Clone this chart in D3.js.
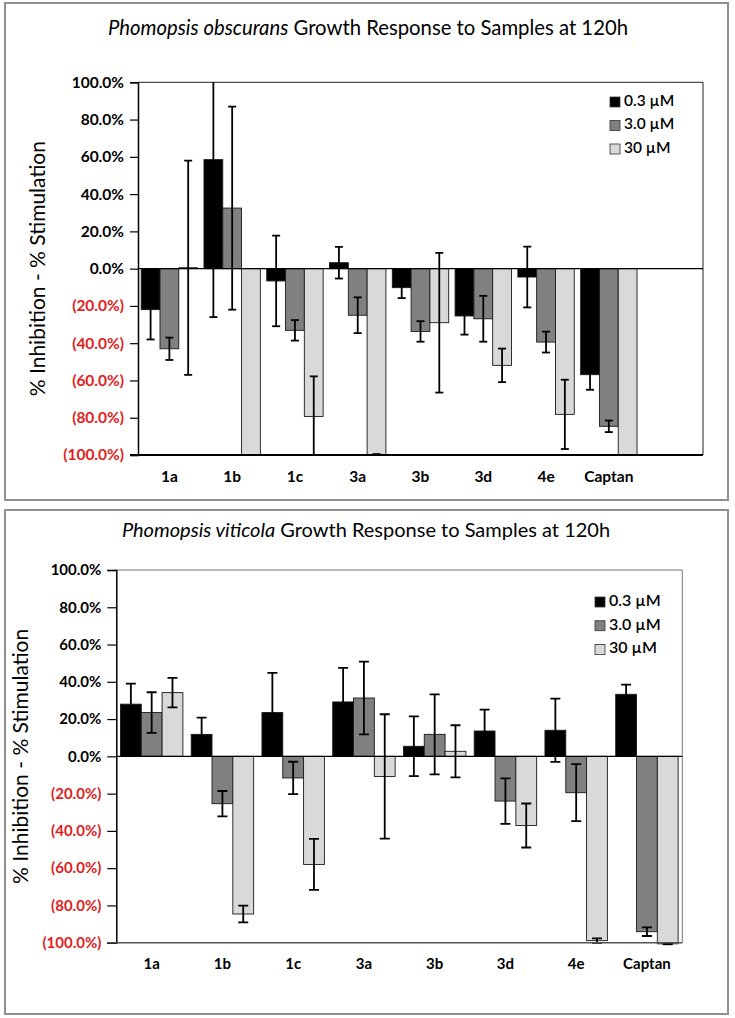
<!DOCTYPE html>
<html><head><meta charset="utf-8">
<script src="https://cdn.jsdelivr.net/npm/d3@7"></script>
<style>
html,body{margin:0;padding:0;background:#fff;}
svg{display:block;font-family:Lato,"Open Sans",sans-serif;}
</style></head>
<body>
<svg id="c" width="735" height="1018"></svg>
<script>
// ---------- DATA ----------
const seriesNames = ["0.3 \u00b5M", "3.0 \u00b5M", "30 \u00b5M"];
const seriesColors = ["#000000", "#808080", "#d9d9d9"];
const yTicks = [100, 80, 60, 40, 20, 0, -20, -40, -60, -80, -100];

// Phomopsis obscurans (top) — trailing empty category slot as in the original
const obscCategories = ["1a", "1b", "1c", "3a", "3b", "3d", "4e", "Captan", ""];
const obsc_03 = [-22, 58.5, -6.6, 3.2, -10.2, -25.4, -4.5, -56.9];
const obsc_03_err = [16, 84.5, 24.3, 8.5, 5.6, 10, 16.3, 8.1];
const obsc_30 = [-43, 32.5, -33.1, -25, -33.7, -26.9, -39.4, -84.6];
const obsc_30_err = [6, 54.5, 5.5, 9.6, 5.5, 12.3, 5.6, 3.1];
const obsc_300 = [0.5, -100, -79.3, -100, -29, -51.9, -78.2, -100];
const obsc_300_err = [57.5, 0, 21.5, 0.5, 37.5, 9, 18.6, 0];

// Phomopsis viticola (bottom)
const vitiCategories = ["1a", "1b", "1c", "3a", "3b", "3d", "4e", "Captan"];
const viti_03 = [28, 11.8, 23.5, 29.2, 5.4, 13.6, 14, 33.3];
const viti_03_err = [11, 9, 21.3, 18.3, 16, 11.5, 17, 5.2];
const viti_30 = [23.5, -25.4, -11.6, 31.3, 11.8, -24, -19.5, -94.1];
const viti_30_err = [10.9, 6.8, 8.7, 19.5, 21.5, 12.2, 15.3, 2.3];
const viti_300 = [34.2, -84.6, -58, -10.8, 2.7, -37.1, -98.9, -100.6];
const viti_300_err = [7.9, 4.5, 13.7, 33.4, 14, 11.8, 1.2, 0.3];

// ---------- DRAW ----------
const svg = d3.select("#c");

function fmtTick(v) {
  return v < 0 ? "(" + (-v).toFixed(1) + "%)" : v.toFixed(1) + "%";
}

function drawPanel(cfg) {
  const g = svg.append("g");
  g.append("rect").attr("x", cfg.frame[0]).attr("y", cfg.frame[1])
    .attr("width", cfg.frame[2]).attr("height", cfg.frame[3])
    .attr("fill", "#fff").attr("stroke", "#8f8f8f").attr("stroke-width", 2);

  const t = g.append("text").attr("x", cfg.titleX).attr("y", cfg.titleY)
    .attr("text-anchor", "middle").attr("font-size", cfg.titleSize).attr("fill", "#000");
  t.append("tspan").attr("font-style", "italic").text(cfg.species);
  t.append("tspan").text(" Growth Response to Samples at 120h");

  const x0 = d3.scaleBand().domain(cfg.categories).range([cfg.left, cfg.right]).paddingInner(0).paddingOuter(0);
  const x1 = d3.scaleBand().domain(seriesNames).range([0, x0.bandwidth()]).paddingInner(0).paddingOuter(cfg.outerPad);
  const y = d3.scaleLinear().domain([-100, 100]).range([cfg.bottom, cfg.top]);

  g.append("path")
    .attr("d", `M${cfg.left},${cfg.top}H${cfg.right}V${cfg.bottom}`)
    .attr("fill", "none").attr("stroke", cfg.borderColor).attr("stroke-width", 1);

  const clipId = "clip" + cfg.id;
  svg.append("clipPath").attr("id", clipId).append("rect")
    .attr("x", cfg.left).attr("y", cfg.top).attr("width", cfg.right - cfg.left)
    .attr("height", cfg.bottom - cfg.top + cfg.clipExtra);

  const plot = g.append("g").attr("clip-path", `url(#${clipId})`);

  cfg.series.forEach((s, si) => {
    const data = s.values.map((v, i) => ({ cat: cfg.categories[i], v, e: s.err[i] }));
    plot.selectAll(null).data(data).enter().append("rect")
      .attr("x", d => x0(d.cat) + x1(seriesNames[si]))
      .attr("width", x1.bandwidth())
      .attr("y", d => y(Math.max(0, d.v)))
      .attr("height", d => Math.abs(y(d.v) - y(0)))
      .attr("fill", seriesColors[si]).attr("stroke", "#1a1a1a").attr("stroke-width", 0.9);
  });

  g.append("line").attr("x1", cfg.left).attr("x2", cfg.right)
    .attr("y1", y(0)).attr("y2", y(0)).attr("stroke", "#000").attr("stroke-width", 1.2);

  cfg.series.forEach((s, si) => {
    const data = s.values.map((v, i) => ({ cat: cfg.categories[i], v, e: s.err[i] }))
      .filter(d => d.e > 0);
    const eg = plot.selectAll(null).data(data).enter().append("g")
      .attr("stroke", "#000").attr("stroke-width", 1.8);
    const cx = d => x0(d.cat) + x1(seriesNames[si]) + x1.bandwidth() / 2;
    eg.append("line").attr("x1", cx).attr("x2", cx)
      .attr("y1", d => y(d.v + d.e)).attr("y2", d => y(d.v - d.e));
    eg.append("line").attr("x1", d => cx(d) - cfg.cap).attr("x2", d => cx(d) + cfg.cap)
      .attr("y1", d => y(d.v + d.e)).attr("y2", d => y(d.v + d.e));
    eg.append("line").attr("x1", d => cx(d) - cfg.cap).attr("x2", d => cx(d) + cfg.cap)
      .attr("y1", d => y(d.v - d.e)).attr("y2", d => y(d.v - d.e));
  });

  const ax = g.append("g").attr("transform", `translate(${cfg.left},0)`)
    .call(d3.axisLeft(y).tickValues(yTicks).tickSize(cfg.tickLen).tickPadding(cfg.tickPad).tickFormat(fmtTick));
  ax.select(".domain").attr("stroke", "#000").attr("stroke-width", 1.5);
  ax.selectAll(".tick line").attr("stroke", "#000").attr("stroke-width", 1.2);
  ax.selectAll(".tick text")
    .attr("font-family", "Lato, sans-serif").attr("font-size", cfg.tickSize).attr("font-weight", "bold")
    .attr("fill", d => d < 0 ? "#e3201b" : "#000");

  g.append("line").attr("x1", cfg.left - cfg.tickLen).attr("x2", cfg.right)
    .attr("y1", cfg.bottom).attr("y2", cfg.bottom)
    .attr("stroke", cfg.bottomColor).attr("stroke-width", cfg.bottomWidth);

  g.selectAll(null).data(cfg.categories.filter(c => c !== "")).enter().append("text")
    .attr("x", d => x0(d) + x0.bandwidth() / 2).attr("y", cfg.catY)
    .attr("text-anchor", "middle").attr("dominant-baseline", "middle")
    .attr("font-size", cfg.catSize).attr("font-weight", "bold").attr("fill", "#000").text(d => d);

  g.append("text").attr("transform", `translate(${cfg.yTitleX},${(cfg.top + cfg.bottom) / 2}) rotate(-90)`)
    .attr("text-anchor", "middle").attr("dominant-baseline", "middle")
    .attr("font-size", cfg.yTitleSize).attr("fill", "#000").text("% Inhibition - % Stimulation");

  const lg = g.append("g");
  seriesNames.forEach((n, i) => {
    const cy = cfg.legY + i * cfg.legStep;
    lg.append("rect").attr("x", cfg.legX).attr("y", cy - 5).attr("width", 10).attr("height", 10)
      .attr("fill", seriesColors[i]).attr("stroke", "#333").attr("stroke-width", 0.8);
    lg.append("text").attr("x", cfg.legX + 14).attr("y", cy).attr("dominant-baseline", "middle")
      .attr("font-size", cfg.legSize).attr("font-weight", "600").attr("fill", "#000").text(n);
  });
}

drawPanel({
  id: "top", species: "Phomopsis obscurans",
  frame: [5, 3, 723, 497], titleX: 368, titleY: 35, titleSize: 20.3,
  categories: obscCategories, left: 138, right: 703, top: 82.3, bottom: 455,
  outerPad: 0.17, cap: 4, clipExtra: 0,
  borderColor: "#222", bottomColor: "#000", bottomWidth: 2,
  tickLen: 8, tickPad: 6, tickSize: 15.5, catY: 478, catSize: 15.5,
  yTitleX: 40, yTitleSize: 21,
  legX: 610, legY: 102, legStep: 23.5, legSize: 15.5,
  series: [
    { values: obsc_03, err: obsc_03_err },
    { values: obsc_30, err: obsc_30_err },
    { values: obsc_300, err: obsc_300_err }
  ]
});

drawPanel({
  id: "bot", species: "Phomopsis viticola",
  frame: [5, 510, 723, 504], titleX: 366, titleY: 537, titleSize: 20,
  categories: vitiCategories, left: 116.3, right: 682.3, top: 570, bottom: 942.7,
  outerPad: 0.2, cap: 5, clipExtra: 3,
  borderColor: "#777", bottomColor: "#555", bottomWidth: 1.5,
  tickLen: 9, tickPad: 6, tickSize: 15, catY: 965, catSize: 15,
  yTitleX: 23, yTitleSize: 21,
  legX: 595, legY: 602, legStep: 23.7, legSize: 16,
  series: [
    { values: viti_03, err: viti_03_err },
    { values: viti_30, err: viti_30_err },
    { values: viti_300, err: viti_300_err }
  ]
});
</script>
</body></html>
